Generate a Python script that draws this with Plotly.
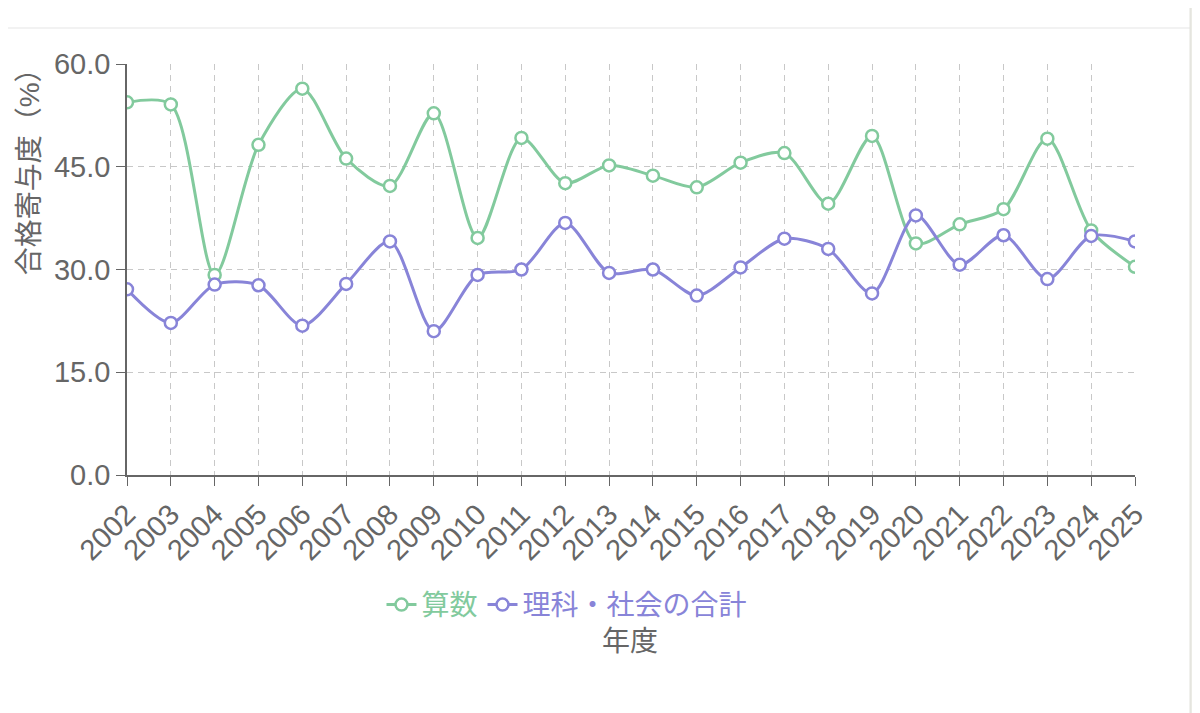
import plotly.graph_objects as go

years = list(range(2002, 2026))
math_share = [54.4, 54.1, 29.2, 48.2, 56.4, 46.2, 42.2, 52.8, 34.6, 49.2, 42.6, 45.2,
              43.7, 42.0, 45.6, 47.0, 39.6, 49.5, 33.8, 36.6, 38.8, 49.1, 35.7, 30.4]
sci_soc_share = [27.1, 22.2, 27.8, 27.7, 21.8, 27.9, 34.1, 21.0, 29.2, 30.0, 36.8, 29.5,
                 30.0, 26.2, 30.3, 34.5, 33.0, 26.5, 37.9, 30.7, 35.0, 28.6, 34.9, 34.1]
y_ticks = [0, 15, 30, 45, 60]

GREEN = "#82ca9d"
PURPLE = "#8884d8"
GREY = "#666666"
FONT = "Liberation Sans, Noto Sans CJK JP"

fig = go.Figure()
for name, vals, col in [("算数", math_share, GREEN), ("理科・社会の合計", sci_soc_share, PURPLE)]:
    fig.add_trace(go.Scatter(
        x=years, y=vals, mode="lines+markers",
        name=f"<span style='color:{col}'>{name}</span>",
        line=dict(color=col, width=3, shape="spline", smoothing=0.8),
        marker=dict(symbol="circle", size=12, color="white", line=dict(color=col, width=2.5)),
    ))

# decorative bits of the surrounding page (divider, scrollbar)
page_shapes = [
    dict(type="line", xref="paper", yref="paper", x0=-0.13, x1=1.0546,
         y0=1.0876, y1=1.0876, line=dict(color="#eeeeee", width=1.5)),
    dict(type="rect", xref="paper", yref="paper", x0=1.0546, x1=1.07, y0=-0.6, y1=1.2,
         fillcolor="#ebebe5", line=dict(color="#e0e0da", width=1)),
]

# the page body adds an 8px offset, so margins are shifted to compensate
fig.update_layout(
    width=1200, height=713,
    margin=dict(l=119, r=73, t=56, b=246),
    paper_bgcolor="white", plot_bgcolor="white",
    font=dict(family=FONT, size=27, color=GREY),
    showlegend=True,
    legend=dict(orientation="h", x=0.4365, xanchor="center", y=-0.316, yanchor="middle",
                font=dict(size=28), itemwidth=30, tracegroupgap=0),
    shapes=page_shapes,
    annotations=[
        dict(text="年度", xref="paper", yref="paper", x=0.499, y=-0.404,
             xanchor="center", yanchor="middle",
             showarrow=False, font=dict(size=28, color=GREY)),
        dict(text="合格寄与度（%）", xref="paper", yref="paper", x=-0.097, y=0.754,
             xanchor="center", yanchor="middle",
             textangle=-90, showarrow=False, font=dict(size=28, color=GREY)),
    ],
)

fig.update_xaxes(
    range=[2002, 2025], tickmode="array", tickvals=years, ticktext=[str(y) for y in years],
    tickangle=-45, showgrid=True, gridcolor="#c8c8c8", griddash="6px,5px", gridwidth=1.2,
    showline=True, linecolor=GREY, linewidth=1.5, ticks="outside", ticklen=9,
    tickcolor=GREY, tickfont=dict(size=29, color=GREY), zeroline=False, automargin=False,
)
fig.update_yaxes(
    range=[0, 60], tickmode="array", tickvals=y_ticks, ticktext=[f"{v:.1f}" for v in y_ticks],
    showgrid=True, gridcolor="#c8c8c8", griddash="6px,5px", gridwidth=1.2,
    showline=True, linecolor=GREY, linewidth=1.5, ticks="outside", ticklen=9,
    tickcolor=GREY, tickfont=dict(size=29, color=GREY), zeroline=False, automargin=False,
)

fig.write_html("out.html")
